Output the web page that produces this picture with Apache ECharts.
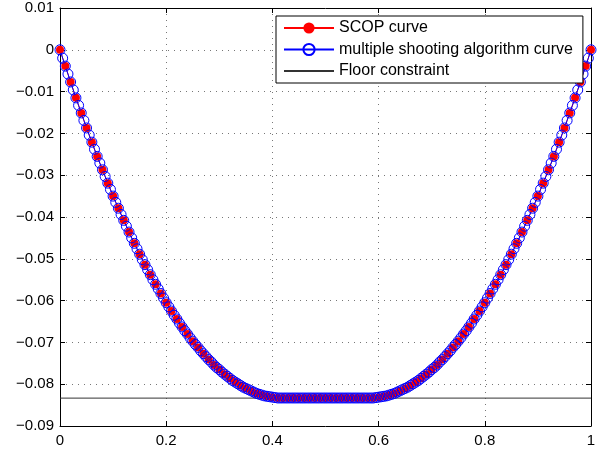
<!DOCTYPE html>
<html>
<head>
<meta charset="utf-8">
<script src="https://cdn.jsdelivr.net/npm/echarts@6/dist/echarts.min.js"></script>
<style>html,body{margin:0;padding:0;background:#fff;}#c{width:606px;height:451px;}</style>
</head>
<body>
<div id="c"></div>
<script>
// multiple shooting algorithm curve: 201 samples on [0,1]
const msY = [
0, -0.0020, -0.0039, -0.0058, -0.0077, -0.0096, -0.0115, -0.0133, -0.0151, -0.0169,
-0.0187, -0.0204, -0.0221, -0.0238, -0.0255, -0.0271, -0.0287, -0.0303, -0.0319, -0.0334,
-0.0350, -0.0365, -0.0379, -0.0394, -0.0408, -0.0422, -0.0436, -0.0450, -0.0463, -0.0476,
-0.0489, -0.0502, -0.0514, -0.0526, -0.0538, -0.0550, -0.0561, -0.0572, -0.0583, -0.0594,
-0.0605, -0.0615, -0.0625, -0.0635, -0.0644, -0.0654, -0.0663, -0.0672, -0.0680, -0.0689,
-0.0697, -0.0705, -0.0712, -0.0720, -0.0727, -0.0734, -0.0741, -0.0747, -0.0754, -0.0760,
-0.0765, -0.0771, -0.0776, -0.0781, -0.0786, -0.0791, -0.0795, -0.0799, -0.0803, -0.0807,
-0.0810, -0.0813, -0.0816, -0.0819, -0.0822, -0.0824, -0.0826, -0.0828, -0.0829, -0.0830,
-0.0831, -0.0832, -0.0833, -0.0833, -0.0833,
-0.0833, -0.0833, -0.0833, -0.0833, -0.0833, -0.0833, -0.0833, -0.0833, -0.0833, -0.0833,
-0.0833, -0.0833, -0.0833, -0.0833, -0.0833, -0.0833, -0.0833, -0.0833, -0.0833, -0.0833,
-0.0833, -0.0833, -0.0833, -0.0833, -0.0833, -0.0833, -0.0833, -0.0833, -0.0833, -0.0833,
-0.0833,
-0.0833, -0.0833, -0.0833, -0.0832, -0.0831,
-0.0830, -0.0829, -0.0828, -0.0826, -0.0824, -0.0822, -0.0819, -0.0816, -0.0813, -0.0810,
-0.0807, -0.0803, -0.0799, -0.0795, -0.0791, -0.0786, -0.0781, -0.0776, -0.0771, -0.0765,
-0.0760, -0.0754, -0.0747, -0.0741, -0.0734, -0.0727, -0.0720, -0.0712, -0.0705, -0.0697,
-0.0689, -0.0680, -0.0672, -0.0663, -0.0654, -0.0644, -0.0635, -0.0625, -0.0615, -0.0605,
-0.0594, -0.0583, -0.0572, -0.0561, -0.0550, -0.0538, -0.0526, -0.0514, -0.0502, -0.0489,
-0.0476, -0.0463, -0.0450, -0.0436, -0.0422, -0.0408, -0.0394, -0.0379, -0.0365, -0.0350,
-0.0334, -0.0319, -0.0303, -0.0287, -0.0271, -0.0255, -0.0238, -0.0221, -0.0204, -0.0187,
-0.0169, -0.0151, -0.0133, -0.0115, -0.0096, -0.0077, -0.0058, -0.0039, -0.0020, 0
];
// SCOP curve: 101 samples on [0,1]
const scopY = [
0, -0.0039, -0.0077, -0.0115, -0.0151, -0.0187, -0.0221, -0.0255, -0.0287, -0.0319,
-0.0350, -0.0379, -0.0408, -0.0436, -0.0463, -0.0489, -0.0514, -0.0538, -0.0561, -0.0583,
-0.0605, -0.0625, -0.0644, -0.0663, -0.0680, -0.0697, -0.0712, -0.0727, -0.0741, -0.0754,
-0.0765, -0.0776, -0.0786, -0.0795, -0.0803, -0.0810, -0.0816, -0.0822, -0.0826, -0.0829,
-0.0831, -0.0833, -0.0833,
-0.0833, -0.0833, -0.0833, -0.0833, -0.0833, -0.0833, -0.0833, -0.0833, -0.0833, -0.0833,
-0.0833, -0.0833, -0.0833, -0.0833, -0.0833,
-0.0833, -0.0833, -0.0831, -0.0829, -0.0826, -0.0822, -0.0816, -0.0810, -0.0803, -0.0795,
-0.0786, -0.0776, -0.0765, -0.0754, -0.0741, -0.0727, -0.0712, -0.0697, -0.0680, -0.0663,
-0.0644, -0.0625, -0.0605, -0.0583, -0.0561, -0.0538, -0.0514, -0.0489, -0.0463, -0.0436,
-0.0408, -0.0379, -0.0350, -0.0319, -0.0287, -0.0255, -0.0221, -0.0187, -0.0151, -0.0115,
-0.0077, -0.0039, 0
];
const floorX = [0, 1];
const floorY = [-0.08333, -0.08333];
const seriesNames = ['SCOP curve', 'multiple shooting algorithm curve', 'Floor constraint'];

const msData = msY.map((v, i) => [i / (msY.length - 1), v]);
const scopData = scopY.map((v, i) => [i / (scopY.length - 1), v]);
const floorData = floorX.map((x, i) => [x, floorY[i]]);

const FONT = 'Liberation Sans, Arial, Helvetica, sans-serif';
const chart = echarts.init(document.getElementById('c'));
const yFmt = v => { const r = Math.round(v * 100) / 100; if (r === 0) return '0'; return (r < 0 ? '\u2212' : '') + Math.abs(r).toFixed(2); };
const xFmt = v => { const r = Math.round(v * 10) / 10; if (r === 0) return '0'; if (r === 1) return '1'; return r.toFixed(1); };
const gridLine = { show: true, lineStyle: { color: '#777', width: 1, type: [1, 5] } };
chart.setOption({
  animation: false,
  backgroundColor: '#fff',
  grid: { left: 60, right: 15, top: 8, bottom: 25, containLabel: false },
  legend: {
    data: [
      { name: seriesNames[0] },
      { name: seriesNames[1] },
      { name: seriesNames[2], itemStyle: { opacity: 0 } }
    ],
    orient: 'vertical',
    left: 276, top: 16,
    itemWidth: 50, itemHeight: 14, itemGap: 5.5,
    padding: [4, 10, 4, 7],
    backgroundColor: '#fff', borderColor: '#000', borderWidth: 1, borderRadius: 0,
    textStyle: { fontFamily: FONT, fontSize: 16, color: '#000' },
    selectedMode: false
  },
  xAxis: [
    { type: 'value', min: 0, max: 1, interval: 0.2, position: 'bottom',
      axisLine: { show: true, onZero: false, lineStyle: { color: '#000', width: 1 } },
      axisTick: { show: true, inside: true, length: 5, lineStyle: { color: '#000' } },
      axisLabel: { formatter: xFmt, fontFamily: FONT, fontSize: 15, color: '#000', margin: 7 },
      splitLine: gridLine },
    { type: 'value', min: 0, max: 1, interval: 0.2, position: 'top',
      axisLine: { show: true, onZero: false, lineStyle: { color: '#000', width: 1 } },
      axisTick: { show: true, inside: true, length: 5, lineStyle: { color: '#000' } },
      axisLabel: { show: false }, splitLine: { show: false } }
  ],
  yAxis: [
    { type: 'value', min: -0.09, max: 0.01, interval: 0.01, position: 'left',
      axisLine: { show: true, onZero: false, lineStyle: { color: '#000', width: 1 } },
      axisTick: { show: true, inside: true, length: 5, lineStyle: { color: '#000' } },
      axisLabel: { formatter: yFmt, fontFamily: FONT, fontSize: 15, color: '#000', margin: 6 },
      splitLine: gridLine },
    { type: 'value', min: -0.09, max: 0.01, interval: 0.01, position: 'right',
      axisLine: { show: true, onZero: false, lineStyle: { color: '#000', width: 1 } },
      axisTick: { show: true, inside: true, length: 5, lineStyle: { color: '#000' } },
      axisLabel: { show: false }, splitLine: { show: false } }
  ],
  series: [
    { name: seriesNames[0], type: 'line', data: scopData, clip: false,
      symbol: 'circle', symbolSize: 8,
      itemStyle: { color: '#ff0000' },
      lineStyle: { color: '#ff0000', width: 1 } },
    { name: seriesNames[1], type: 'line', data: msData, clip: false,
      symbol: 'circle', symbolSize: 10,
      itemStyle: { color: 'rgba(0,0,0,0)', borderColor: '#0000ff', borderWidth: 1 },
      lineStyle: { color: '#0000ff', width: 1 } },
    { name: seriesNames[2], type: 'line', data: floorData, symbol: 'none',
      itemStyle: { color: '#333' },
      lineStyle: { color: '#333', width: 1 } }
  ]
});
</script>
</body>
</html>
